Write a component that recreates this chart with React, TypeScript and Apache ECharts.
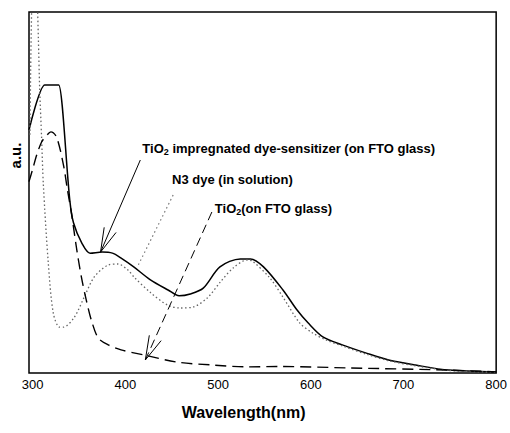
import React, { useEffect, useRef } from "react";
import * as echarts from "echarts";

const FONT = '"Liberation Sans", Arial, Helvetica, sans-serif';

// TiO2 impregnated dye-sensitizer (on FTO glass) — solid
const solidWl = [296, 313, 314.5, 326.5, 328, 340, 344, 353, 362, 375, 386, 395, 409, 427, 446, 458, 470, 484, 502, 524, 535, 549, 570, 585, 597, 613, 634, 660, 684, 713, 749, 800];
const solidAbs = [67.3, 79.8, 79.8, 79.8, 79.8, 47.9, 41.6, 36.0, 33.2, 33.5, 33.2, 31.9, 29.4, 25.8, 23.0, 21.4, 21.9, 23.5, 29.4, 31.6, 31.6, 29.4, 23.0, 17.5, 13.9, 10.0, 7.8, 5.5, 3.6, 2.2, 0.8, 0.3];

// N3 dye (in solution) — dotted
const dotWl = [297, 299.5, 303, 305, 306.1, 307.5, 309.6, 311.5, 316.8, 322.2, 328.9, 333.2, 345, 355.7, 366.4, 381.4, 392, 402.8, 409.2, 427.4, 445.6, 459.5, 473.4, 488.4, 502.4, 516.3, 531.3, 537, 555.9, 569.8, 588, 601.9, 616.9, 634, 660, 684, 713, 749, 800];
const dotAbs = [66, 108, 120, 103, 92.8, 78.9, 65.1, 52.1, 30.5, 16.6, 12.7, 12.7, 15.5, 21.1, 26.6, 29.9, 30.2, 28.5, 26.6, 22.2, 18.8, 18.0, 18.3, 20.8, 25.2, 29.1, 31.3, 31.0, 26.3, 21.1, 13.9, 11.1, 9.1, 7.5, 5.2, 3.4, 2.0, 0.7, 0.2];

// TiO2 (on FTO glass) — dashed
const dashWl = [296, 300, 304.3, 309.6, 314, 319.6, 325.7, 333.2, 337.5, 341.8, 347.1, 352.5, 357.8, 363.2, 370.7, 381.4, 395.3, 420, 456.3, 494.9, 531.3, 566.6, 641.5, 748.6, 800];
const dashAbs = [53, 56.5, 60.4, 64.0, 65.5, 66.8, 65.4, 57.6, 50.7, 44.3, 34.9, 26.6, 20.2, 14.7, 9.7, 7.8, 6.4, 5.0, 3.0, 2.2, 1.7, 1.8, 1.4, 0.8, 0.3];

const xTicks = [300, 400, 500, 600, 700, 800];

// annotation labels (data coordinates of left/middle anchor)
const labelTexts = [
  "TiO{sub|2} impregnated dye-sensitizer (on FTO glass)",
  "N3 dye (in solution)",
  "TiO{sub|2}(on FTO glass)",
];
const labelWl = [418.3, 450.4, 496.5];
const labelAbs = [62.3, 53.5, 45.7];

// leader lines: from (wl, abs) to (wl, abs)
const arrowFromWl = [416.1, 451.5, 493.3];
const arrowFromAbs = [59.0, 49.3, 44.6];
const arrowToWl = [373.2, 412.9, 421.5];
const arrowToAbs = [33.5, 29.4, 3.6];
const arrowStyles = ["solid", "dotted", "dashed"];
const arrowHeads = [true, false, true];

const zip = (a: number[], b: number[]) => a.map((v, i) => [v, b[i]]);

export default function App() {
  const ref = useRef<HTMLDivElement>(null);
  useEffect(() => {
    if (!ref.current) return;
    const chart = echarts.init(ref.current, null, { renderer: "svg" });
    chart.setOption({
      animation: false,
      backgroundColor: "#fff",
      grid: {
        left: 28,
        right: 12,
        top: 12,
        bottom: 60,
        show: true,
        borderColor: "#000",
        borderWidth: 1.5,
        backgroundColor: "transparent",
      },
      xAxis: {
        type: "value",
        min: 296,
        max: 800,
        axisLine: { show: false },
        axisTick: { show: false },
        splitLine: { show: false },
        axisLabel: {
          customValues: xTicks,
          color: "#000",
          fontSize: 13,
          fontFamily: FONT,
          margin: 5,
        },
        name: "Wavelength(nm)",
        nameLocation: "middle",
        nameGap: 31,
        nameTextStyle: {
          color: "#000",
          fontSize: 16,
          fontWeight: "bold",
          fontFamily: FONT,
          padding: [0, 38, 0, 0],
        },
      },
      yAxis: {
        type: "value",
        min: 0,
        max: 100,
        axisLine: { show: false },
        axisTick: { show: false },
        splitLine: { show: false },
        axisLabel: { show: false },
        name: "a.u.",
        nameLocation: "middle",
        nameGap: 6,
        nameRotate: 90,
        nameTextStyle: {
          color: "#000",
          fontSize: 15,
          fontWeight: "bold",
          fontFamily: FONT,
          padding: [0, 0, 0, 74],
        },
      },
      series: [
        {
          type: "line",
          name: "TiO2 impregnated dye-sensitizer (on FTO glass)",
          data: zip(solidWl, solidAbs),
          showSymbol: false,
          clip: true,
          smooth: 0.3,
          lineStyle: { color: "#000", width: 1.5 },
        },
        {
          type: "line",
          name: "N3 dye (in solution)",
          data: zip(dotWl, dotAbs),
          showSymbol: false,
          clip: true,
          smooth: 0.3,
          lineStyle: { color: "#666", width: 1.3, type: [1.5, 2.5] },
        },
        {
          type: "line",
          name: "TiO2(on FTO glass)",
          data: zip(dashWl, dashAbs),
          showSymbol: false,
          clip: true,
          smooth: 0.3,
          lineStyle: { color: "#000", width: 1.4, type: [11, 6] },
        },
      ],
    });

    const toPx = (p: number[]) => chart.convertToPixel({ gridIndex: 0 }, p) as number[];
    const elements: any[] = [];
    labelTexts.forEach((t, i) => {
      const p = toPx([labelWl[i], labelAbs[i]]);
      elements.push({
        type: "text",
        x: p[0],
        y: p[1],
        style: {
          text: t,
          fill: "#000",
          fontSize: 13,
          fontWeight: "bold",
          fontFamily: FONT,
          verticalAlign: "middle",
          align: "left",
          rich: {
            sub: {
              fontSize: 9,
              fontWeight: "bold",
              fontFamily: FONT,
              fill: "#000",
              verticalAlign: "bottom",
              padding: [7, 0, 0, 0],
            },
          },
        },
        z: 10,
      });
    });
    arrowFromWl.forEach((_, i) => {
      const a = toPx([arrowFromWl[i], arrowFromAbs[i]]);
      const b = toPx([arrowToWl[i], arrowToAbs[i]]);
      const st = arrowStyles[i];
      const lineDash = st === "dotted" ? [1.5, 3] : st === "dashed" ? [9, 5] : null;
      elements.push({
        type: "line",
        shape: { x1: a[0], y1: a[1], x2: b[0], y2: b[1] },
        style: {
          stroke: st === "dotted" ? "#777" : "#000",
          lineWidth: st === "dotted" ? 1.2 : 1,
          lineDash,
        },
        z: 10,
      });
      if (arrowHeads[i]) {
        const dx = a[0] - b[0];
        const dy = a[1] - b[1];
        const len = Math.hypot(dx, dy);
        const ux = dx / len;
        const uy = dy / len;
        const ang = (15 * Math.PI) / 180;
        const hl = 25;
        const rot = (s: number) => [
          b[0] + hl * (ux * Math.cos(s) - uy * Math.sin(s)),
          b[1] + hl * (ux * Math.sin(s) + uy * Math.cos(s)),
        ];
        elements.push({
          type: "polyline",
          shape: { points: [rot(ang), [b[0], b[1]], rot(-ang)] },
          style: { stroke: "#000", lineWidth: 1, fill: null },
          z: 10,
        });
      }
    });
    chart.setOption({ graphic: elements });
    return () => chart.dispose();
  }, []);
  return (
    <div
      ref={ref}
      style={{ position: "fixed", left: 0, top: 0, width: 510, height: 433, background: "#fff" }}
    />
  );
}
